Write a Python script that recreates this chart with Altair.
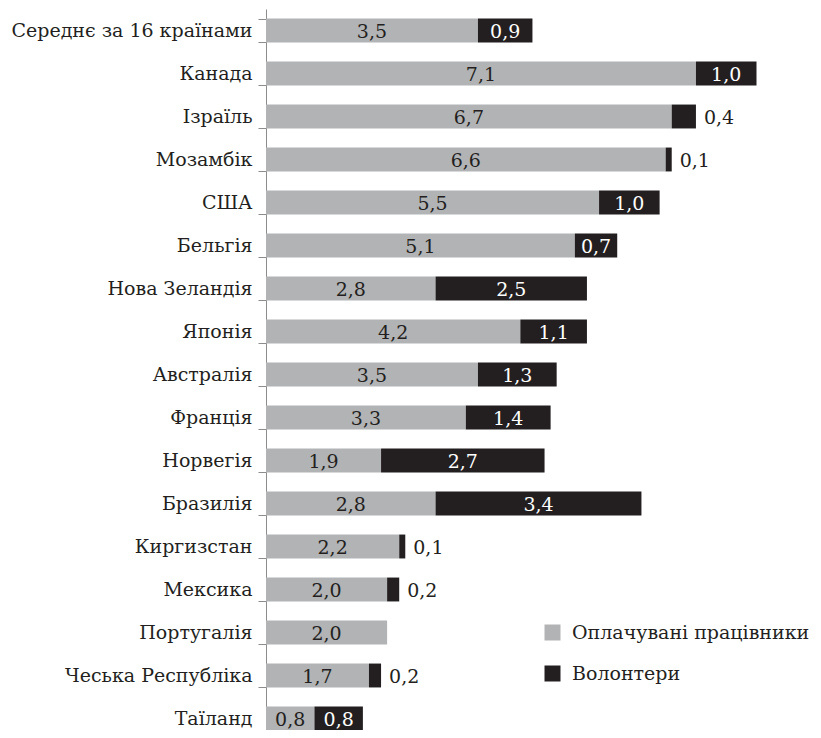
import altair as alt
import pandas as pd

countries = ["Середнє за 16 країнами", "Канада", "Ізраїль", "Мозамбік", "США", "Бельгія",
             "Нова Зеландія", "Японія", "Австралія", "Франція", "Норвегія", "Бразилія",
             "Киргизстан", "Мексика", "Португалія", "Чеська Республіка", "Таїланд"]
paid = [3.5, 7.1, 6.7, 6.6, 5.5, 5.1, 2.8, 4.2, 3.5, 3.3, 1.9, 2.8, 2.2, 2.0, 2.0, 1.7, 0.8]
volunteers = [0.9, 1.0, 0.4, 0.1, 1.0, 0.7, 2.5, 1.1, 1.3, 1.4, 2.7, 3.4, 0.1, 0.2, 0.0, 0.2, 0.8]
series = ["Оплачувані працівники", "Волонтери"]

rows = []
for c, p, v in zip(countries, paid, volunteers):
    rows.append({"country": c, "type": series[0], "ord": 0, "value": p})
    rows.append({"country": c, "type": series[1], "ord": 1, "value": v})
df = pd.DataFrame(rows)

FONT = "DejaVu Serif"
FS = 19
DARK = "#231f20"
GRAY = "#b2b3b5"

base = alt.Chart(df).transform_stack(
    stack="value", groupby=["country"], as_=["x0", "x1"],
    sort=[alt.SortField("ord", order="ascending")]
).transform_calculate(
    mid="(datum.x0 + datum.x1) / 2",
    lbl="replace(format(datum.value, '.1f'), '.', ',')"
)

yenc = alt.Y("country:N", sort=countries,
             scale=alt.Scale(paddingInner=0.444, paddingOuter=0.222),
             axis=alt.Axis(title=None, labelFont=FONT, labelFontSize=FS, labelColor=DARK,
                           labelLimit=400,
                           domainColor="#8c8c8c", tickColor="#8c8c8c", tickSize=8,
                           tickBand="extent", labelPadding=6, grid=False))
xscale = alt.Scale(domain=[0, 9], nice=False, zero=True)

bars = base.mark_bar().encode(
    x=alt.X("x0:Q", scale=xscale, axis=None),
    x2="x1:Q",
    y=yenc,
    color=alt.Color("type:N", scale=alt.Scale(domain=series, range=[GRAY, DARK]),
                    legend=alt.Legend(title=None, orient="none", legendX=277, legendY=614,
                                      labelFont=FONT, labelFontSize=FS, labelColor=DARK,
                                      labelLimit=400,
                                      symbolType="square", symbolSize=256, symbolStrokeWidth=0,
                                      rowPadding=21, labelOffset=10, padding=0)),
)

yy = alt.Y("country:N", sort=countries)

inside_paid = base.transform_filter("datum.value >= 0.5 && datum.ord == 0").mark_text(
    font=FONT, fontSize=FS, align="center", baseline="middle", dy=1, color=DARK
).encode(x=alt.X("mid:Q", scale=xscale), y=yy, text="lbl:N")

inside_vol = base.transform_filter("datum.value >= 0.5 && datum.ord == 1").mark_text(
    font=FONT, fontSize=FS, align="center", baseline="middle", dy=1, color="white"
).encode(x=alt.X("mid:Q", scale=xscale), y=yy, text="lbl:N")

outside = base.transform_filter("datum.value > 0 && datum.value < 0.5 && datum.ord == 1").mark_text(
    font=FONT, fontSize=FS, align="left", baseline="middle", dx=8, dy=1, color=DARK
).encode(x=alt.X("x1:Q", scale=xscale), y=yy, text="lbl:N")

chart = alt.layer(bars, inside_paid, inside_vol, outside).properties(
    width=545, height=731,
    autosize=alt.AutoSizeParams(type="none"),
    padding={"left": 258, "top": 1, "right": 2, "bottom": -10},
).configure_view(stroke=None)

chart.save("out.html", embed_options={"renderer": "svg", "actions": False})
